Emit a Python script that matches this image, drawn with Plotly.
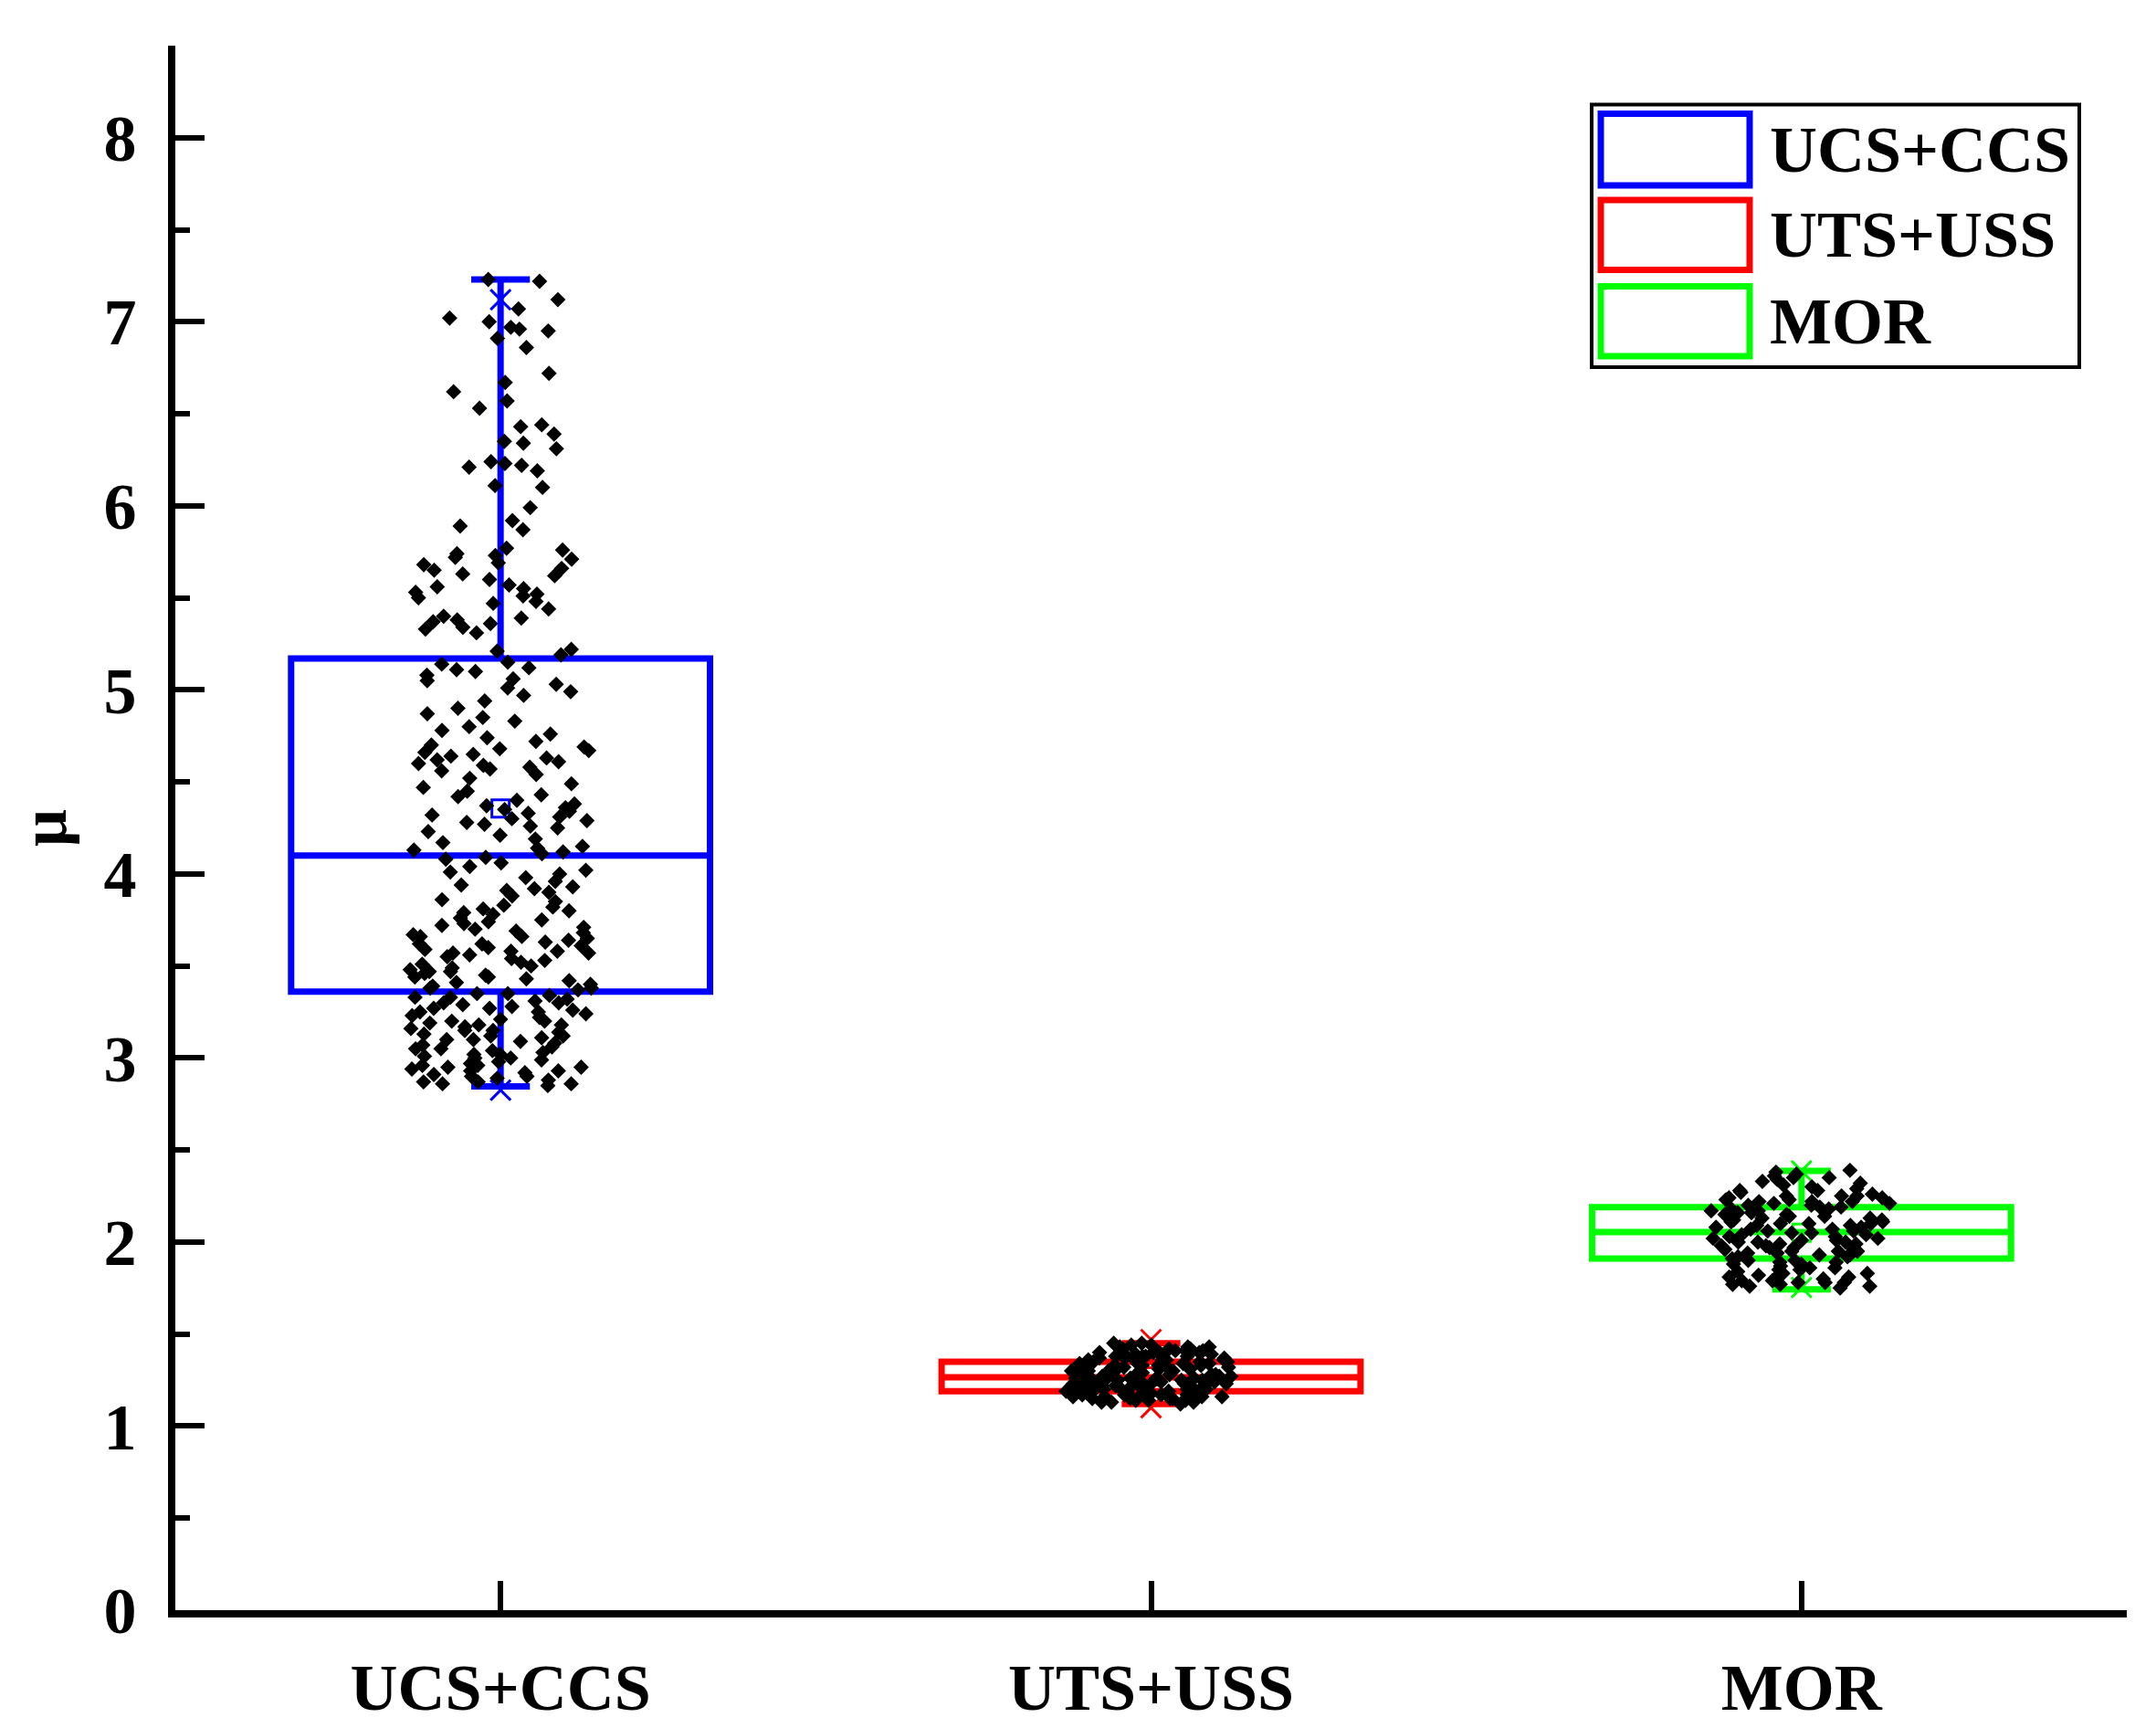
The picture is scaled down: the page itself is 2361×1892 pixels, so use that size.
import plotly.graph_objects as go

# ---------------- data ----------------
categories = ["UCS+CCS", "UTS+USS", "MOR"]
colors = ["#0000FF", "#FF0000", "#00FF00"]

# box statistics
q1 = [3.36, 1.19, 1.91]
median = [4.10, 1.265, 2.054]
q3 = [5.17, 1.35, 2.19]
lower_whisker = [2.846, 1.12, 1.743]
upper_whisker = [7.23, 1.45, 2.387]
mean = [4.356, 1.27, 2.05]
p_low = [2.825, 1.10, 1.753]     # 'x' markers
p_high = [7.12, 1.47, 2.387]

ucs_points = [
    7.23, 7.22, 7.12, 7.07, 7.02, 7.00, 6.97, 6.96, 6.95, 6.91, 6.86, 6.72, 6.67, 6.62, 6.57, 6.53,
    6.44, 6.43, 6.39, 6.35, 6.34, 6.31, 6.24, 6.23, 6.22, 6.21, 6.19, 6.11, 6.10, 5.99, 5.92, 5.89,
    5.87, 5.77, 5.76, 5.74, 5.73, 5.72, 5.71, 5.69, 5.68, 5.66, 5.65, 5.63, 5.62, 5.60, 5.57, 5.56,
    5.55, 5.53, 5.52, 5.51, 5.50, 5.48, 5.47, 5.44, 5.40, 5.39, 5.38, 5.37, 5.36, 5.34, 5.33, 5.31,
    5.22, 5.21, 5.19,
    5.15, 5.14, 5.12, 5.11, 5.10, 5.08, 5.06, 5.05, 5.03, 5.01, 4.99, 4.97, 4.94, 4.90, 4.87, 4.85,
    4.83, 4.80, 4.78, 4.76, 4.74, 4.72, 4.70, 4.69, 4.68, 4.67, 4.66, 4.65, 4.64, 4.63, 4.62, 4.61,
    4.60, 4.59, 4.58, 4.57, 4.56, 4.54, 4.52, 4.49, 4.47, 4.45, 4.43, 4.42, 4.40, 4.38, 4.37, 4.36,
    4.35, 4.34, 4.33, 4.32, 4.31, 4.30, 4.29, 4.28, 4.27, 4.26, 4.25, 4.23, 4.21, 4.19, 4.17, 4.15,
    4.14, 4.13, 4.12, 4.11,
    3.37, 3.38, 3.39, 3.40, 3.41, 3.42, 3.43, 3.44, 3.45, 3.46, 3.47, 3.48, 3.50, 3.51, 3.52, 3.53,
    3.55, 3.56, 3.57, 3.58, 3.59, 3.60, 3.61, 3.62, 3.63, 3.64, 3.65, 3.66, 3.67, 3.68, 3.70, 3.71,
    3.72, 3.74, 3.75, 3.76, 3.78, 3.79, 3.80, 3.82, 3.83, 3.85, 3.86, 3.88, 3.90, 3.91, 3.93, 3.94,
    3.96, 3.98, 4.00, 4.02, 4.04, 4.06, 4.08, 4.09, 3.38, 3.44, 3.49, 3.54, 3.58, 3.62, 3.66, 3.73,
    3.81, 3.92, 4.01, 3.47, 3.57, 3.69,
    2.85, 2.86, 2.86, 2.87, 2.88, 2.89, 2.90, 2.90, 2.91, 2.92, 2.93, 2.94, 2.95, 2.95, 2.96, 2.97,
    2.98, 2.99, 3.00, 3.00, 3.01, 3.02, 3.03, 3.04, 3.05, 3.05, 3.06, 3.07, 3.08, 3.09, 3.10, 3.10,
    3.11, 3.12, 3.13, 3.14, 3.15, 3.15, 3.16, 3.17, 3.18, 3.19, 3.20, 3.20, 3.21, 3.22, 3.23, 3.24,
    3.25, 3.25, 3.26, 3.27, 3.28, 3.29, 3.30, 3.30, 3.31, 3.32, 3.33, 3.34, 3.35, 3.35, 2.87, 2.93,
    3.02, 3.12, 3.18, 3.27, 3.33, 2.96,
]

uts_points = [
    1.12, 1.13, 1.13, 1.14, 1.14, 1.15, 1.15, 1.15, 1.16, 1.16, 1.16, 1.17, 1.17, 1.17, 1.17, 1.18,
    1.18, 1.18, 1.18, 1.18, 1.19, 1.19, 1.19, 1.19, 1.19, 1.14, 1.16, 1.17, 1.18, 1.15, 1.13, 1.16,
    1.17, 1.18, 1.19,
    1.20, 1.20, 1.20, 1.21, 1.21, 1.21, 1.21, 1.22, 1.22, 1.22, 1.22, 1.23, 1.23, 1.23, 1.23, 1.24,
    1.24, 1.24, 1.24, 1.25, 1.25, 1.25, 1.25, 1.26, 1.26, 1.26, 1.26, 1.20, 1.21, 1.22, 1.23, 1.24,
    1.25, 1.26, 1.22,
    1.27, 1.27, 1.27, 1.28, 1.28, 1.28, 1.29, 1.29, 1.29, 1.30, 1.30, 1.30, 1.31, 1.31, 1.31, 1.32,
    1.32, 1.32, 1.33, 1.33, 1.33, 1.34, 1.34, 1.34, 1.35, 1.35, 1.27, 1.28, 1.29, 1.30, 1.31, 1.32,
    1.33, 1.34, 1.30,
    1.35, 1.36, 1.36, 1.36, 1.37, 1.37, 1.37, 1.38, 1.38, 1.38, 1.39, 1.39, 1.39, 1.40, 1.40, 1.40,
    1.41, 1.41, 1.41, 1.42, 1.42, 1.42, 1.43, 1.43, 1.43, 1.44, 1.44, 1.45, 1.45, 1.38, 1.39, 1.40,
    1.41, 1.37, 1.36,
]

mor_points = [
    1.75, 1.76, 1.76, 1.77, 1.77, 1.78, 1.78, 1.79, 1.79, 1.80, 1.80, 1.81, 1.81, 1.82, 1.83, 1.83,
    1.84, 1.85, 1.85, 1.86, 1.86, 1.87, 1.88, 1.88, 1.89, 1.89, 1.90, 1.90, 1.91, 1.78,
    1.92, 1.92, 1.93, 1.93, 1.94, 1.94, 1.95, 1.95, 1.96, 1.96, 1.97, 1.97, 1.98, 1.98, 1.99, 1.99,
    2.00, 2.00, 2.01, 2.01, 2.02, 2.02, 2.03, 2.03, 2.04, 2.04, 2.05, 2.05, 1.95, 2.00,
    2.06, 2.06, 2.07, 2.07, 2.08, 2.08, 2.09, 2.09, 2.10, 2.10, 2.11, 2.11, 2.12, 2.12, 2.13, 2.13,
    2.14, 2.14, 2.15, 2.15, 2.16, 2.16, 2.17, 2.17, 2.18, 2.18, 2.19, 2.19, 2.10, 2.15,
    2.20, 2.20, 2.21, 2.21, 2.22, 2.22, 2.23, 2.23, 2.24, 2.24, 2.25, 2.25, 2.26, 2.27, 2.28, 2.29,
    2.30, 2.31, 2.32, 2.33, 2.34, 2.35, 2.36, 2.37, 2.38, 2.39, 2.22, 2.25, 2.28, 2.35,
]
points = [ucs_points, uts_points, mor_points]

y_ticks = [0, 1, 2, 3, 4, 5, 6, 7, 8]
y_range = [0, 8.5]
x_range = [-0.5, 2.5]

# ---------------- figure ----------------
FONT = "Liberation Serif"
W, H = 2361, 1892
ML, MR, MT, MB = 184, 40, 42, 127
BOLD72 = dict(family=FONT, size=72, color="black", weight="bold")

fig = go.Figure()

# boxes + whiskers
for i, cat in enumerate(categories):
    fig.add_trace(go.Box(
        x=[cat], q1=[q1[i]], median=[median[i]], q3=[q3[i]],
        lowerfence=[lower_whisker[i]], upperfence=[upper_whisker[i]],
        width=0.644, whiskerwidth=0.14,
        line=dict(color=colors[i], width=7),
        fillcolor="rgba(0,0,0,0)", boxpoints=False,
        showlegend=False, hoverinfo="skip",
    ))

# percentile 'x' markers and mean squares
for i, cat in enumerate(categories):
    fig.add_trace(go.Scatter(
        x=[cat, cat], y=[p_low[i], p_high[i]], mode="markers",
        marker=dict(symbol="x-thin-open", size=22, color=colors[i],
                    line=dict(color=colors[i], width=3)),
        showlegend=False, hoverinfo="skip",
    ))
    fig.add_trace(go.Scatter(
        x=[cat], y=[mean[i]], mode="markers",
        marker=dict(symbol="square-open", size=19, color=colors[i],
                    line=dict(color=colors[i], width=3)),
        showlegend=False, hoverinfo="skip",
    ))

# jittered raw data points on an overlaying subplot so they sit on top
for i, cat in enumerate(categories):
    fig.add_trace(go.Box(
        x=[cat] * len(points[i]), y=points[i],
        xaxis="x2", yaxis="y2",
        boxpoints="all", jitter=1.0, pointpos=0, width=0.28,
        line=dict(color="rgba(0,0,0,0)", width=0),
        fillcolor="rgba(0,0,0,0)",
        marker=dict(symbol="diamond", size=13, color="black"),
        showlegend=False, hoverinfo="skip",
    ))

# manual legend (Origin-style) in paper coordinates
pw = W - ML - MR
ph = H - MT - MB
def px(xp):
    return (xp - ML) / pw
def py(yp):
    return (H - MB - yp) / ph

shapes = [dict(type="rect", xref="paper", yref="paper",
               x0=px(1735), x1=px(2269), y0=py(396), y1=py(107),
               line=dict(color="black", width=4), fillcolor="white", layer="above")]
annotations = []
rows = [(117, 196), (212, 289), (307, 384)]
for i, cat in enumerate(categories):
    y0, y1 = rows[i]
    shapes.append(dict(type="rect", xref="paper", yref="paper",
                       x0=px(1745), x1=px(1908), y0=py(y1), y1=py(y0),
                       line=dict(color=colors[i], width=7), fillcolor="white", layer="above"))
    annotations.append(dict(xref="paper", yref="paper", x=px(1928), y=py((y0 + y1) / 2),
                            text=cat, showarrow=False, xanchor="left", yanchor="middle",
                            font=BOLD72))

fig.update_layout(
    width=W, height=H,
    margin=dict(l=ML, r=MR, t=MT, b=MB, pad=0),
    paper_bgcolor="white", plot_bgcolor="white",
    font=BOLD72,
    boxmode="overlay",
    shapes=shapes, annotations=annotations,
    showlegend=False,
    xaxis=dict(
        type="category", categoryorder="array", categoryarray=categories,
        range=x_range, showgrid=False, zeroline=False,
        showline=True, linecolor="black", linewidth=8,
        ticks="inside", ticklen=32, tickwidth=6, tickcolor="black",
        tickfont=BOLD72, ticklabelstandoff=15,
    ),
    yaxis=dict(
        range=y_range, tickvals=y_ticks, showgrid=False, zeroline=False,
        showline=True, linecolor="black", linewidth=8,
        ticks="inside", ticklen=32, tickwidth=6, tickcolor="black",
        minor=dict(dtick=0.5, ticks="inside", ticklen=16, tickwidth=6, tickcolor="black"),
        tickfont=BOLD72, ticklabelstandoff=20,
        title=dict(text="μ", font=BOLD72, standoff=20),
    ),
    xaxis2=dict(
        type="category", categoryorder="array", categoryarray=categories,
        range=x_range, overlaying="x", visible=False,
    ),
    yaxis2=dict(range=y_range, overlaying="y", visible=False),
)

fig.write_html("out.html")
